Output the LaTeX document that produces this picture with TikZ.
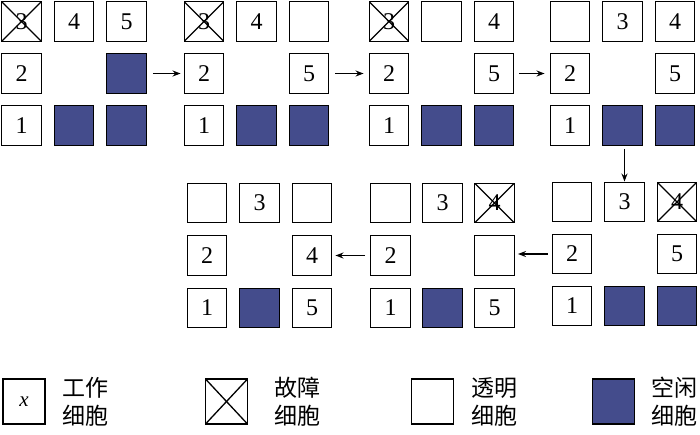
\documentclass[tikz,border=0pt]{standalone}
\usepackage{fontspec}
\setmainfont{Liberation Serif}
\newfontfamily\cjk{Noto Sans CJK SC}
\usetikzlibrary{arrows.meta}
\definecolor{idleblue}{RGB}{68,76,140}
\tikzset{
  cell/.style={draw,line width=1.4pt,minimum size=39.5pt,inner sep=0pt,
    font=\fontsize{24}{24}\selectfont},
  idle/.style={cell,fill=idleblue},
  fault/.style={cell,path picture={
    \draw[line width=1.3pt] (path picture bounding box.north west) -- (path picture bounding box.south east)
      (path picture bounding box.north east) -- (path picture bounding box.south west);}},
  move/.style={-{Stealth[length=8pt,width=6pt]},line width=1.3pt},
  note/.style={font=\cjk\fontsize{23}{28}\selectfont,align=left,anchor=west,inner sep=0pt},
  key/.style={minimum width=42pt,minimum height=45pt}
}
\begin{document}
\begin{tikzpicture}[x=1pt,y=-1pt]
\useasboundingbox (0,0) rectangle (700,434);

% first row of states
\begin{scope}[shift={(21.5,21.5)}]
  \node[fault] (A1) at (0,0) {3};
  \node[cell] (A2) at (52.5,0) {4};
  \node[cell] (A3) at (105,0) {5};
  \node[cell] (A4) at (0,52) {2};
  \node[idle] (A6) at (105,52) {};
  \node[cell] (A7) at (0,104) {1};
  \node[idle] (A8) at (52.5,104) {};
  \node[idle] (A9) at (105,104) {};
\end{scope}

\begin{scope}[shift={(204,21.5)}]
  \node[fault] (B1) at (0,0) {3};
  \node[cell] (B2) at (52.5,0) {4};
  \node[cell] (B3) at (105,0) {};
  \node[cell] (B4) at (0,52) {2};
  \node[cell] (B6) at (105,52) {5};
  \node[cell] (B7) at (0,104) {1};
  \node[idle] (B8) at (52.5,104) {};
  \node[idle] (B9) at (105,104) {};
\end{scope}

\begin{scope}[shift={(389,21.5)}]
  \node[fault] (C1) at (0,0) {3};
  \node[cell] (C2) at (52.5,0) {};
  \node[cell] (C3) at (105,0) {4};
  \node[cell] (C4) at (0,52) {2};
  \node[cell] (C6) at (105,52) {5};
  \node[cell] (C7) at (0,104) {1};
  \node[idle] (C8) at (52.5,104) {};
  \node[idle] (C9) at (105,104) {};
\end{scope}

\begin{scope}[shift={(570,21.5)}]
  \node[cell] (D1) at (0,0) {};
  \node[cell] (D2) at (52.5,0) {3};
  \node[cell] (D3) at (105,0) {4};
  \node[cell] (D4) at (0,52) {2};
  \node[cell] (D6) at (105,52) {5};
  \node[cell] (D7) at (0,104) {1};
  \node[idle] (D8) at (52.5,104) {};
  \node[idle] (D9) at (105,104) {};
\end{scope}

% second row, right to left
\begin{scope}[shift={(572,202)}]
  \node[cell] (E1) at (0,0) {};
  \node[cell] (E2) at (52.5,0) {3};
  \node[fault] (E3) at (105,0) {4};
  \node[cell] (E4) at (0,52) {2};
  \node[cell] (E6) at (105,52) {5};
  \node[cell] (E7) at (0,104) {1};
  \node[idle] (E8) at (52.5,104) {};
  \node[idle] (E9) at (105,104) {};
\end{scope}

\begin{scope}[shift={(390.5,203)}]
  \node[cell] (F1) at (0,0) {};
  \node[cell] (F2) at (52,0) {3};
  \node[fault] (F3) at (104,0) {4};
  \node[cell] (F4) at (0,52.5) {2};
  \node[cell] (F6) at (104,52.5) {};
  \node[cell] (F7) at (0,105) {1};
  \node[idle] (F8) at (52,105) {};
  \node[cell] (F9) at (104,105) {5};
\end{scope}

\begin{scope}[shift={(207,203)}]
  \node[cell] (G1) at (0,0) {};
  \node[cell] (G2) at (52.5,0) {3};
  \node[cell] (G3) at (105,0) {};
  \node[cell] (G4) at (0,52.5) {2};
  \node[cell] (G6) at (105,52.5) {4};
  \node[cell] (G7) at (0,105) {1};
  \node[idle] (G8) at (52.5,105) {};
  \node[cell] (G9) at (105,105) {5};
\end{scope}

\draw[move,shorten <=6pt,shorten >=3pt] (A6) -- (B4);
\draw[move,shorten <=6pt,shorten >=5pt] (B6) -- (C4);
\draw[move,shorten <=5pt,shorten >=5pt] (C6) -- (D4);
\draw[move,shorten <=3pt] (E2.north |- D8.south) -- (E2.north);
\draw[move,shorten <=4pt,shorten >=3pt] (E4.west) -- (E4.west -| F6.east);
\draw[move,shorten <=5pt,shorten >=3pt] (F4.west) -- (F4.west -| G6.east);

% legend
\node[cell,key,font=\fontsize{21}{21}\selectfont\itshape] (L1) at (24,401.5) {x};
\node[note] (T1) at (62,401.5) {工作\\细胞};
\node[fault,key] (L2) at (226.5,401.5) {};
\node[note] (T2) at (274,401.5) {故障\\细胞};
\node[cell,key] (L3) at (432.5,401.5) {};
\node[note] (T3) at (471,401.5) {透明\\细胞};
\node[idle,key] (L4) at (613.5,401.5) {};
\node[note] (T4) at (651,401.5) {空闲\\细胞};
\end{tikzpicture}
\end{document}
